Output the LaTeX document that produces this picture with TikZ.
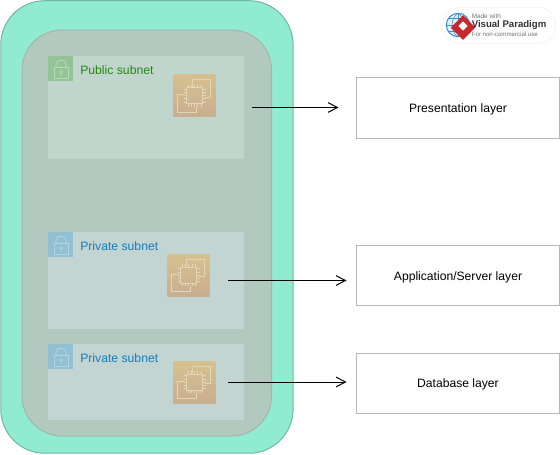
\documentclass[tikz,border=0pt]{standalone}
\usepackage{fontspec}
\setmainfont{Liberation Sans}
\usetikzlibrary{arrows.meta,calc}
\definecolor{outerfill}{HTML}{91EBD0}
\definecolor{outerline}{HTML}{6FB8A4}
\definecolor{innerfill}{HTML}{B2C9C0}
\definecolor{innerline}{HTML}{A3B5AE}
\definecolor{subfill}{HTML}{C0D5CB}
\definecolor{subfillb}{HTML}{C2D5D2}
\definecolor{greenbadge}{HTML}{94C496}
\definecolor{bluebadge}{HTML}{92C0D3}
\definecolor{greenlock}{HTML}{BAD8BC}
\definecolor{bluelock}{HTML}{B4D4DF}
\definecolor{greentext}{HTML}{248814}
\definecolor{bluetext}{HTML}{147EBA}
\definecolor{chiptop}{HTML}{D6C08F}
\definecolor{chipbot}{HTML}{C9AE8F}
\definecolor{chipline}{HTML}{E2D6B8}
\definecolor{boxline}{HTML}{B8B8B8}
\definecolor{globeblue}{HTML}{3C8FC8}
\definecolor{logored}{HTML}{C8282D}
\tikzset{
  x=0.75pt,y=-0.75pt,
  outerbox/.style={draw=outerline,fill=outerfill,line width=0.75pt},
  innerbox/.style={draw=innerline,fill=innerfill,line width=0.75pt},
  subnetarea/.style={draw=none,anchor=north west,inner sep=0pt,minimum width=147pt,fill=subfillb},
  lockbadge/.style={draw=none,anchor=north west,inner sep=0pt,minimum size=18.75pt},
  subnetlabel/.style={anchor=west,inner sep=0pt,font=\fontsize{9.15pt}{11pt}\selectfont},
  chipbox/.style={draw=none,anchor=north west,inner sep=0pt,minimum size=31.5pt,top color=chiptop,bottom color=chipbot},
  layerbox/.style={draw=boxline,fill=white,line width=0.75pt,anchor=north west,inner sep=0pt,minimum width=152.25pt,text height=9pt,text depth=1.6pt,font=\fontsize{9.1pt}{11pt}\selectfont},
  flow/.style={draw=black,line width=0.75pt,-{Straight Barb[length=7pt,width=6.5pt,angle'=55]}},
  lock/.pic={
    \draw[#1,line width=0.65pt] (-7,-3) rectangle (7,8);
    \draw[#1,line width=0.65pt] (-5,-3) -- (-5,-6) .. controls (-5,-11) and (5,-11) .. (5,-6) -- (5,-3);
    \draw[#1,line width=0.55pt] (0,2) circle[radius=1.6];
    \draw[#1,line width=0.55pt] (0,3.6) -- (0,6);
  },
  chip/.pic={
    \draw[chipline,line width=0.75pt] (-2,-9) -- (-2,-16) -- (16,-16) -- (16,1.5) -- (10,1.5)
      (-11,-1) -- (-17,-1) -- (-17,16.5) -- (1.5,16.5) -- (1.5,11);
    \draw[chipline,line width=0.9pt] (-8,-8) rectangle (8,8);
    \foreach \k in {-6.5,-3.25,0,3.25,6.5}{
      \draw[chipline,line width=0.55pt] (\k,-11) -- (\k,-8) (\k,8) -- (\k,11) (-11,\k) -- (-8,\k) (8,\k) -- (11,\k);
    }
  },
}
\begin{document}
\begin{tikzpicture}
\useasboundingbox (0,0) rectangle (560,454);
% containers
\node[outerbox,anchor=north west,inner sep=0pt,minimum width=219.2pt,minimum height=339.4pt,rounded corners=33pt] (vpc) at (0.3,0.2) {};
\node[innerbox,anchor=north west,inner sep=0pt,minimum width=187.2pt,minimum height=304.5pt,rounded corners=30pt] (net) at (21.5,29.5) {};
% subnets
\node[subnetarea,fill=subfill,minimum height=77.25pt] (s1) at (48,56) {};
\node[subnetarea,minimum height=72.75pt] (s2) at (48,232) {};
\node[subnetarea,minimum height=57pt] (s3) at (48,344) {};
\node[lockbadge,fill=greenbadge] (b1) at (48,56) {};
\node[lockbadge,fill=bluebadge] (b2) at (48,232) {};
\node[lockbadge,fill=bluebadge] (b3) at (48,344) {};
\pic at (61,70) {lock=greenlock};
\pic at (61,246) {lock=bluelock};
\pic at (61,358) {lock=bluelock};
\node[subnetlabel,text=greentext] (t1) at (80,70.3) {Public subnet};
\node[subnetlabel,text=bluetext] (t2) at (80,246.3) {Private subnet};
\node[subnetlabel,text=bluetext] (t3) at (80,358.3) {Private subnet};
% chips
\node[chipbox] (c1) at (173.2,74.3) {};
\node[chipbox] (c2) at (167.4,254) {};
\node[chipbox] (c3) at (173.2,361) {};
\pic at (194.5,95.5) {chip};
\pic at (188.7,275.2) {chip};
\pic at (194.5,382.2) {chip};
% layers
\node[layerbox,minimum height=45.75pt] (l1) at (356,76.5) {Presentation layer};
\node[layerbox,minimum height=45pt] (l2) at (356,245) {Application/Server layer};
\node[layerbox,minimum height=45pt] (l3) at (356,352.5) {Database layer};
% connectors
\coordinate (f1) at (252,107.5);
\coordinate (f2) at (228,280.5);
\coordinate (f3) at (228,382);
\coordinate (e1) at (338.5,107.5);
\coordinate (e2) at (346.5,280.5);
\coordinate (e3) at (346.5,382);
\draw[flow] (f1) -- (e1);
\draw[flow] (f2) -- (e2);
\draw[flow] (f3) -- (e3);
% logo
\node[fill=white,draw=black!5,line width=0.5pt,rounded corners=13pt,anchor=north west,inner sep=0pt,minimum width=85pt,minimum height=27pt] (logo) at (442,7) {};
\node[circle,draw=globeblue,line width=0.8pt,fill=globeblue!15,minimum size=17.5pt,inner sep=0pt] (globe) at (458,25) {};
\draw[globeblue,line width=0.4pt] (446,25) -- (470,25) (448,18.5) -- (468,18.5) (448,31.5) -- (468,31.5) (458,13) -- (458,37);
\draw[globeblue,line width=0.4pt] (458,13) .. controls (450,19) and (450,31) .. (458,37);
\draw[globeblue,line width=0.4pt] (458,13) .. controls (466,19) and (466,31) .. (458,37);
\node[fill=logored,rotate=45,minimum size=13pt,inner sep=0pt] (dia) at (463,27.5) {};
\node[fill=white,rotate=45,minimum size=5pt,inner sep=0pt] (diab) at (463,26) {};
\node[anchor=west,inner sep=0pt,text=black!55,font=\fontsize{4.8pt}{6pt}\selectfont] (lg1) at (471.5,16) {Made with};
\node[anchor=west,inner sep=0pt,text=black!80,font=\bfseries\fontsize{7.2pt}{9pt}\selectfont] (lg2) at (471.5,25.5) {Visual Paradigm};
\node[anchor=west,inner sep=0pt,text=black!55,font=\fontsize{4.6pt}{5pt}\selectfont] (lg3) at (471.5,34) {For non-commercial use};
\end{tikzpicture}
\end{document}
